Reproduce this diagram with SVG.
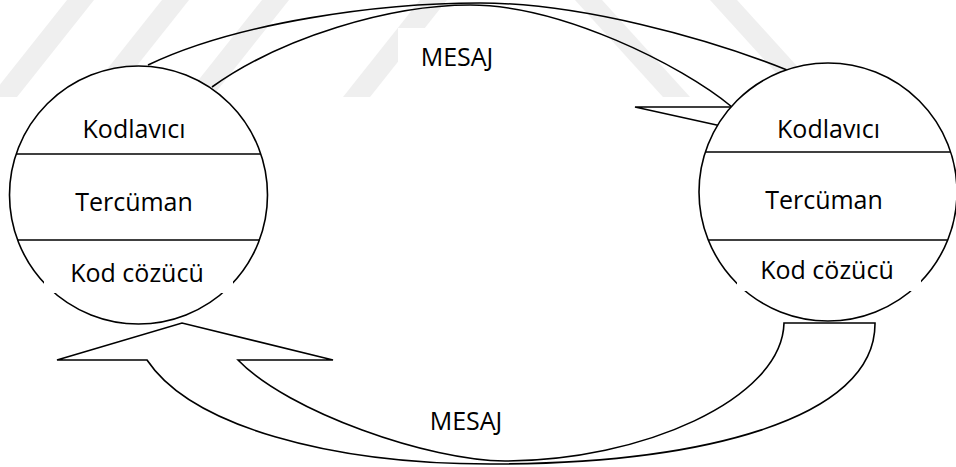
<svg xmlns="http://www.w3.org/2000/svg" width="956" height="467" viewBox="0 0 956 467">
  <style>
    .ln { fill: none; stroke: #000; stroke-width: 1.6; stroke-linejoin: miter; }
    .node { fill: #fff; stroke: #000; stroke-width: 1.6; }
    .div { stroke: #000; stroke-width: 1.6; }
    .mask { fill: #fff; stroke: none; }
    .wm { fill: #efefef; stroke: none; }
    .t { font-family: "Open Sans", "Liberation Sans", sans-serif; font-size: 25px; fill: #000; text-anchor: middle; }
  </style>
  <rect x="0" y="0" width="956" height="467" fill="#fff"/>
  <g id="watermark">
    <polygon class="wm" points="67,0 94,0 17,97 -10,97"/>
    <polygon class="wm" points="162,0 189,0 112,97 85,97"/>
    <polygon class="wm" points="262,0 289,0 212,97 185,97"/>
    <polygon class="wm" points="420,0 447,0 370,97 343,97"/>
    <polygon class="wm" points="575,0 602,0 690,97 663,97"/>
    <polygon class="wm" points="710,0 737,0 825,97 798,97"/>
  </g>
  <g id="connectors">
    <g id="arrow-top">
      <path class="ln" d="M148,65 C238,22 380,3 480,3 C580,3 707,38 787,70"/>
      <path class="ln" d="M212,87 C282,37 390,5 470,5 C560,5 680,64 732,107"/>
      <path class="ln" d="M742,107 L635,107 L762,135"/>
      <rect class="mask" x="398" y="28" width="120" height="52"/>
      <text class="t" x="457" y="66">MESAJ</text>
    </g>
    <g id="arrow-bottom">
      <path class="ln" d="M57,360 L182,323 L333,360 L238,360 C288,412 430,461 505,461 C640,461 782,400 784,323 L875,323 C876,420 700,464 490,464 C330,464 191,426 147,360 Z"/>
      <text class="t" x="466" y="430">MESAJ</text>
    </g>
  </g>
  <g id="node-left">
    <circle class="node" cx="138.5" cy="195" r="129"/>
    <line class="div" x1="16.2" y1="154" x2="260.8" y2="154"/>
    <line class="div" x1="17.6" y1="240" x2="259.4" y2="240"/>
    <rect class="mask" x="44" y="245" width="189" height="48"/>
    <text class="t" x="134" y="138">Kodlavıcı</text>
    <text class="t" x="134" y="211">Tercüman</text>
    <text class="t" x="137" y="282">Kod cözücü</text>
  </g>
  <g id="node-right">
    <circle class="node" cx="828" cy="192" r="129"/>
    <line class="div" x1="705.4" y1="152" x2="950.6" y2="152"/>
    <line class="div" x1="708.3" y1="240" x2="947.7" y2="240"/>
    <rect class="mask" x="737" y="245" width="184" height="46"/>
    <text class="t" x="828.5" y="138">Kodlavıcı</text>
    <text class="t" x="824" y="209">Tercüman</text>
    <text class="t" x="827" y="279">Kod cözücü</text>
  </g>
</svg>
